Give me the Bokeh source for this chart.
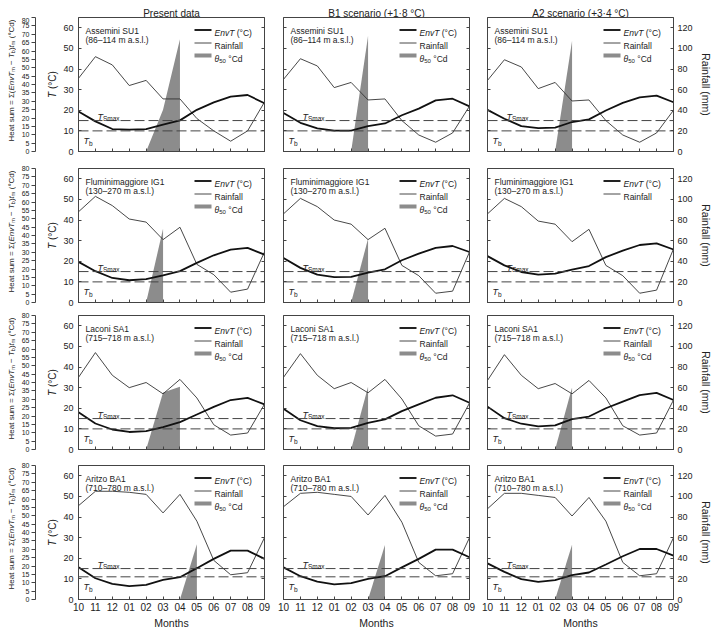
import math
from bokeh.plotting import figure
from bokeh.models import Range1d, LinearAxis, FixedTicker, Label, Span
from bokeh.layouts import column, row
from bokeh.embed import file_html
from bokeh.resources import INLINE

# ------------------------------------------------------------------ data
MONTHS = ["10", "11", "12", "01", "02", "03", "04", "05", "06", "07", "08", "09"]
SCENARIOS = ["Present data", "B1 scenario (+1·8 °C)", "A2 scenario (+3·4 °C)"]
SITES = ["Assemini SU1", "Fluminimaggiore IG1", "Laconi SA1", "Aritzo BA1"]
ALTITUDES = ["(86–114 m a.s.l.)", "(130–270 m a.s.l.)", "(715–718 m a.s.l.)", "(710–780 m a.s.l.)"]
TB = [10, 10, 10, 11]
TSMAX = [15, 15, 15, 15]

# EnvT (°C) per scenario: present, B1, A2
ENVT_ASSEMINI = [[19.4, 14.6, 10.9, 10.6, 10.9, 13.0, 15.1, 20.2, 23.8, 26.6, 27.4, 23.4],
                 [18.7, 13.9, 11.2, 10.1, 10.1, 12.3, 13.6, 17.6, 20.8, 24.8, 25.6, 21.9],
                 [20.2, 15.9, 12.3, 11.3, 11.6, 14.3, 15.6, 19.9, 23.6, 26.3, 27.1, 23.9]]
ENVT_FLUMINI = [[19.7, 15.2, 11.9, 10.8, 11.3, 13.2, 15.2, 19.2, 22.9, 25.6, 26.5, 23.2],
                [21.6, 16.8, 13.5, 12.3, 12.4, 14.5, 16.1, 20.5, 23.7, 26.5, 27.4, 24.5],
                [22.5, 18.0, 14.8, 13.5, 14.0, 16.0, 17.7, 22.0, 25.2, 27.9, 28.7, 25.7]]
ENVT_LACONI = [[18.1, 12.6, 9.7, 8.5, 8.9, 10.8, 13.3, 17.0, 20.7, 24.0, 25.0, 21.9],
               [19.8, 14.2, 11.3, 10.3, 10.5, 12.9, 14.6, 18.6, 21.9, 25.1, 26.3, 22.7],
               [20.8, 15.2, 12.5, 11.2, 11.7, 14.7, 16.0, 20.0, 23.2, 26.4, 27.5, 24.0]]
ENVT_ARITZO = [[15.6, 10.3, 7.6, 6.5, 7.1, 9.5, 10.8, 15.2, 19.7, 23.7, 23.7, 19.7],
               [15.6, 11.3, 8.7, 7.3, 7.9, 10.0, 11.3, 15.6, 19.7, 24.2, 24.2, 20.5],
               [17.5, 13.4, 9.9, 8.6, 9.4, 11.8, 13.1, 17.0, 21.0, 24.5, 24.5, 21.3]]

# Rainfall (mm)
RAIN_ASSEMINI = [[71, 92, 84, 64, 69, 51, 51, 32, 20, 10, 20, 48],
                 [70, 90, 83, 62, 67, 50, 51, 30, 16, 9, 18, 44],
                 [69, 89, 82, 61, 67, 49, 50, 30, 16, 9, 18, 40]]
RAIN_FLUMINI = [[88, 103, 94, 81, 78, 61, 73, 37, 27, 10, 13, 49],
                [86, 101, 93, 80, 76, 61, 72, 36, 26, 9, 11, 49],
                [86, 101, 93, 79, 76, 59, 71, 36, 26, 9, 12, 52]]
RAIN_LACONI = [[70, 94, 72, 60, 65, 54, 68, 50, 24, 14, 16, 44],
               [70, 93, 72, 59, 65, 55, 68, 49, 23, 13, 15, 45],
               [67, 92, 72, 59, 64, 54, 67, 50, 23, 14, 16, 48]]
RAIN_ARITZO = [[91, 105, 105, 104, 102, 84, 102, 76, 38, 24, 26, 60],
               [90, 103, 104, 102, 100, 82, 101, 75, 36, 23, 25, 60],
               [88, 103, 103, 101, 99, 81, 99, 76, 36, 23, 25, 60]]

# Heat sum (theta50 °Cd) polygons: month index / heat sum
HEATX_ASSEMINI = [[4, 5, 6, 6], [4, 5, 5], [4, 5, 5]]
HEATY_ASSEMINI = [[0, 25, 67, 0], [0, 69, 0], [0, 66, 0]]
HEATX_FLUMINI = [[4, 5, 5], [4, 5, 5], []]
HEATY_FLUMINI = [[0, 44, 0], [0, 38, 0], []]
HEATX_LACONI = [[4, 5, 6, 6], [4, 5, 5], [4, 5, 5]]
HEATY_LACONI = [[0, 34, 37.5, 0], [0, 37.5, 0], [0, 37, 0]]
HEATX_ARITZO = [[6, 7, 7], [5, 6, 6], [4, 5, 5]]
HEATY_ARITZO = [[0, 33, 0], [0, 32.5, 0], [0, 32.7, 0]]

ENVT = [ENVT_ASSEMINI, ENVT_FLUMINI, ENVT_LACONI, ENVT_ARITZO]
RAIN = [RAIN_ASSEMINI, RAIN_FLUMINI, RAIN_LACONI, RAIN_ARITZO]
HEATX = [HEATX_ASSEMINI, HEATX_FLUMINI, HEATX_LACONI, HEATX_ARITZO]
HEATY = [HEATY_ASSEMINI, HEATY_FLUMINI, HEATY_LACONI, HEATY_ARITZO]

# ------------------------------------------------------------------ style
FONT = "Liberation Sans"
TXT = "#222222"
LINE = "#333333"
AXC = "#444444"
GREY = "#8c8c8c"
W, H = 186, 134
T_MAX = 65.0
HEAT_MAX = 80.0
PX_X = W / 11.0
PX_Y = H / T_MAX

COL_LEFT = [19, 12, 11]
COL_RIGHT = [7, 7, 36]
ROW_TOP = [0, 9, 7, 8]
ROW_BOTTOM = [8, 6, 8, 29]
STRIP_TITLE_W = 16
HEAT_AXIS_W = 19
HEAT_FRAME_W = 24
HEADER_H = 17

AW = {' ': 278, '(': 333, ')': 333, '+': 584, '-': 333, '.': 278, '=': 584, '°': 400, 'º': 365,
      '·': 333, '–': 556, '−': 584, 'Σ': 618, 'θ': 556,
      'A': 667, 'B': 667, 'C': 722, 'D': 722, 'E': 667, 'F': 611, 'G': 778, 'H': 722, 'I': 278,
      'M': 833, 'S': 667, 'T': 611, 'U': 722, 'R': 722,
      'a': 556, 'b': 556, 'c': 500, 'd': 556, 'e': 556, 'f': 278, 'g': 556, 'h': 556, 'i': 222,
      'l': 222, 'm': 833, 'n': 556, 'o': 556, 'p': 556, 'r': 333, 's': 500, 't': 278, 'u': 556,
      'v': 500, 'x': 500, 'z': 500}


def tw(s, size):
    return sum(AW.get(ch, 556) for ch in s) / 1000.0 * size


def rich(p, x, y, pieces, angle=0.0, color=TXT):
    ca, sa = math.cos(angle), math.sin(angle)
    adv = 0.0
    for text, size, style, dy in pieces:
        t = text.strip(' ')
        lead = len(text) - len(text.lstrip(' '))
        adv += lead * 0.278 * size
        if not t:
            continue
        px = x + adv * ca + dy * sa
        py = y + adv * sa - dy * ca
        p.add_layout(Label(x=px, y=py, x_units='screen', y_units='screen', text=t, angle=angle,
                           text_font=FONT, text_font_size=f"{size}px", text_font_style=style,
                           text_color=color, text_align='left', text_baseline='alphabetic'))
        adv += tw(t, size)
        trail = len(text) - len(text.rstrip(' '))
        adv += trail * 0.278 * size


def pieces_width(pieces):
    return sum(tw(t, s) for t, s, _, _ in pieces)


def hide_labels(ax):
    ax.major_label_text_font_size = "0px"
    ax.major_label_text_color = None
    ax.major_label_standoff = 0


def blank_fig(frame_w, r, left=0, y_range=None):
    p = figure(frame_width=frame_w, frame_height=H, x_range=Range1d(0, 1),
               y_range=y_range if y_range is not None else Range1d(0, 1),
               x_axis_location=None, y_axis_location=None,
               output_backend="svg", toolbar_location=None,
               min_border_left=left, min_border_right=0, min_border_top=ROW_TOP[r],
               min_border_bottom=ROW_BOTTOM[r], background_fill_color="white",
               border_fill_color="white", outline_line_color=None)
    p.grid.visible = False
    return p


def title_strip(r):
    p = blank_fig(STRIP_TITLE_W, r)
    hp = [("Heat sum = Σ(", 8, "normal", 0), ("EnvT", 8, "italic", 0),
          ("m", 5.6, "normal", 1.8), (" − ", 8, "normal", 0), ("T", 8, "italic", 0),
          ("b", 5.6, "normal", 1.8), (")", 8, "normal", 0), ("t", 8, "italic", 0),
          ("m", 5.6, "normal", 1.8), (" (°Cd)", 8, "normal", 0)]
    rich(p, 11, H / 2 + 4 - pieces_width(hp) / 2, hp, angle=math.pi / 2)
    return p


def heat_strip(r):
    p = blank_fig(HEAT_FRAME_W, r, left=HEAT_AXIS_W, y_range=Range1d(0, HEAT_MAX))
    ha = LinearAxis(ticker=FixedTicker(ticks=list(range(0, 81, 5))), bounds=(0, 80))
    ha.major_tick_in = 0
    ha.major_tick_out = 4
    ha.minor_tick_line_color = None
    ha.axis_line_color = AXC
    ha.major_tick_line_color = AXC
    ha.major_label_text_font = FONT
    ha.major_label_text_font_size = "7px"
    ha.major_label_text_color = TXT
    ha.major_label_standoff = 2
    p.add_layout(ha, "left")
    tp = [("T", 10, "italic", 0), (" (°C)", 10, "normal", 0)]
    rich(p, 17, H / 2 - pieces_width(tp) / 2, tp, angle=math.pi / 2)
    return p


def make_panel(r, c):
    p = figure(frame_width=W, frame_height=H, x_range=Range1d(0, 11), y_range=Range1d(0, T_MAX),
               output_backend="svg", toolbar_location=None,
               min_border_left=COL_LEFT[c], min_border_right=COL_RIGHT[c],
               min_border_top=ROW_TOP[r], min_border_bottom=ROW_BOTTOM[r],
               background_fill_color="white", border_fill_color="white",
               outline_line_color=AXC, outline_line_width=1)
    p.grid.visible = False
    p.extra_y_ranges = {"rain": Range1d(0, 2 * T_MAX)}

    # x axis
    xa = p.xaxis[0]
    xa.ticker = FixedTicker(ticks=list(range(12)))
    xa.major_label_overrides = {i: m for i, m in enumerate(MONTHS)}
    xa.major_tick_in = 3
    xa.major_tick_out = 0
    xa.minor_tick_line_color = None
    xa.axis_line_color = AXC
    xa.major_tick_line_color = AXC
    if r == 3:
        xa.major_label_text_font = FONT
        xa.major_label_text_font_size = "10px"
        xa.major_label_text_color = TXT
        xa.major_label_standoff = 3
        xa.axis_label = "Months"
        xa.axis_label_text_font = FONT
        xa.axis_label_text_font_size = "10.5px"
        xa.axis_label_text_font_style = "normal"
        xa.axis_label_text_color = TXT
        xa.axis_label_standoff = 3
    else:
        hide_labels(xa)

    # left T axis
    ya = p.yaxis[0]
    ya.ticker = FixedTicker(ticks=[0, 10, 20, 30, 40, 50, 60])
    ya.major_tick_in = 3
    ya.major_tick_out = 0
    ya.minor_tick_line_color = None
    ya.axis_line_color = AXC
    ya.major_tick_line_color = AXC
    if c == 0:
        ya.major_label_text_font = FONT
        ya.major_label_text_font_size = "9px"
        ya.major_label_text_color = TXT
        ya.major_label_standoff = 5
    else:
        hide_labels(ya)

    # right rainfall axis
    ra = LinearAxis(y_range_name="rain", ticker=FixedTicker(ticks=[0, 20, 40, 60, 80, 100, 120]))
    ra.major_tick_in = 3
    ra.major_tick_out = 0
    ra.minor_tick_line_color = None
    ra.axis_line_color = AXC
    ra.major_tick_line_color = AXC
    if c == 2:
        ra.major_label_text_font = FONT
        ra.major_label_text_font_size = "9px"
        ra.major_label_text_color = TXT
        ra.major_label_standoff = 4
        ra.axis_label = "Rainfall (mm)"
        ra.axis_label_text_font = FONT
        ra.axis_label_text_font_size = "10.5px"
        ra.axis_label_text_font_style = "normal"
        ra.axis_label_text_color = TXT
        ra.axis_label_standoff = 4
    else:
        hide_labels(ra)
    p.add_layout(ra, "right")

    xs = list(range(12))
    # heat-sum fill (drawn against a hidden heat-sum range)
    if HEATX[r][c]:
        p.extra_y_ranges["heat"] = Range1d(0, HEAT_MAX)
        p.patch(HEATX[r][c], HEATY[r][c], y_range_name="heat", fill_color=GREY, line_color=None)
    # thresholds
    p.add_layout(Span(location=TB[r], dimension="width", line_color=AXC, line_width=1,
                      line_dash="10 4"))
    p.add_layout(Span(location=TSMAX[r], dimension="width", line_color=AXC, line_width=1,
                      line_dash="10 4"))
    # rainfall and EnvT
    p.line(xs, RAIN[r][c], y_range_name="rain", line_color=LINE, line_width=0.9)
    p.line(xs, ENVT[r][c], line_color="#111111", line_width=1.8)

    # site text
    rich(p, 7, H - 13, [(SITES[r], 8.5, "normal", 0)])
    rich(p, 7, H - 22, [(ALTITUDES[r], 8.5, "normal", 0)])

    # legend
    lx0, lx1, ltx = 116, 133, 136
    rows_d = [12.5, 25.5, 38]
    entries = [("#222222", 2.2, [("EnvT", 8.5, "italic", 0), (" (°C)", 8.5, "normal", 0)]),
               (LINE, 0.9, [("Rainfall", 8.5, "normal", 0)])]
    if HEATX[r][c]:
        entries.append((GREY, 4, [("θ", 8.5, "italic", 0), ("50", 6, "normal", 2),
                                  (" °Cd", 8.5, "normal", 0)]))
    for k, (col, lw, pcs) in enumerate(entries):
        yv = T_MAX - rows_d[k] / PX_Y
        p.line([lx0 / PX_X, lx1 / PX_X], [yv, yv], line_color=col, line_width=lw)
        rich(p, ltx, H - rows_d[k] - 3, pcs)

    # threshold labels
    rich(p, 19, TSMAX[r] * PX_Y + 4, [("T", 9, "italic", 0), ("Smax", 6.5, "normal", 2.2)])
    rich(p, 5, TB[r] * PX_Y - 10, [("T", 9, "italic", 0), ("b", 6.5, "normal", 2.2)])
    return p


# header with column titles
TOTAL_W = STRIP_TITLE_W + HEAT_AXIS_W + HEAT_FRAME_W + sum(COL_LEFT) + sum(COL_RIGHT) + 3 * W
header = figure(frame_width=TOTAL_W, frame_height=HEADER_H, x_range=Range1d(0, 1),
                y_range=Range1d(0, 1), x_axis_location=None, y_axis_location=None,
                output_backend="svg", toolbar_location=None, min_border=0,
                min_border_left=0, min_border_right=0, min_border_top=0, min_border_bottom=0,
                background_fill_color="white", border_fill_color="white", outline_line_color=None)
header.grid.visible = False
x0 = STRIP_TITLE_W + HEAT_AXIS_W + HEAT_FRAME_W
for c in range(3):
    x0 += COL_LEFT[c]
    header.add_layout(Label(x=x0 + W / 2, y=4.5, x_units="screen", y_units="screen",
                            text=SCENARIOS[c], text_font=FONT, text_font_size="10px",
                            text_color=TXT, text_align="center", text_baseline="alphabetic"))
    x0 += W + COL_RIGHT[c]

rows = [header]
for r in range(4):
    rows.append(row(title_strip(r), heat_strip(r), *[make_panel(r, c) for c in range(3)]))
layout = column(*rows)

open("out.html", "w").write(file_html(layout, INLINE))
